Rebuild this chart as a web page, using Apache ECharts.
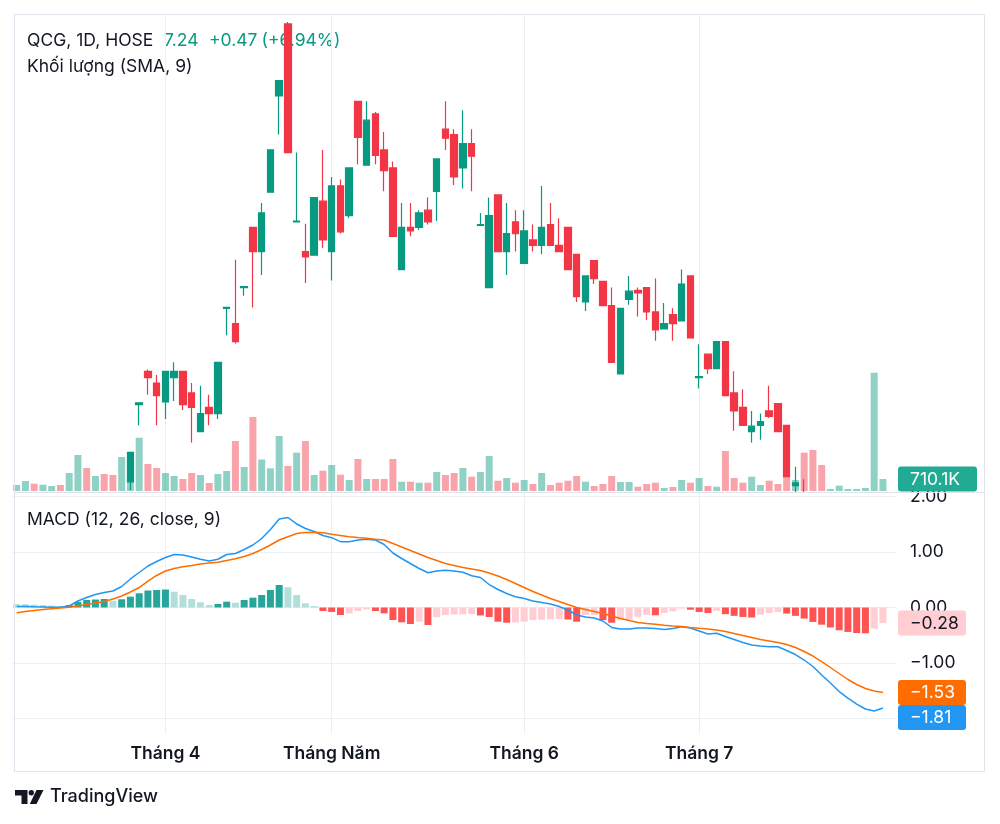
<!DOCTYPE html>
<html>
<head>
<meta charset="utf-8">
<script src="https://cdn.jsdelivr.net/npm/echarts@6/dist/echarts.min.js"></script>
<style>html,body{margin:0;padding:0;background:#fff}#c{width:1000px;height:824px}</style>
</head>
<body>
<div id="c"></div>
<script>
// ---------- DATA ----------
const dates = [
 '2024-03-07','2024-03-08','2024-03-11','2024-03-12','2024-03-13','2024-03-14','2024-03-15','2024-03-18','2024-03-19','2024-03-20',
 '2024-03-21','2024-03-22','2024-03-25','2024-03-26','2024-03-27','2024-03-28','2024-03-29',
 '2024-04-01','2024-04-02','2024-04-03','2024-04-04','2024-04-05','2024-04-08','2024-04-09','2024-04-10','2024-04-11','2024-04-12',
 '2024-04-15','2024-04-16','2024-04-17','2024-04-19','2024-04-22','2024-04-23','2024-04-24','2024-04-25','2024-04-26',
 '2024-05-02','2024-05-03','2024-05-06','2024-05-07','2024-05-08','2024-05-09','2024-05-10','2024-05-13','2024-05-14','2024-05-15',
 '2024-05-16','2024-05-17','2024-05-20','2024-05-21','2024-05-22','2024-05-23','2024-05-24','2024-05-27','2024-05-28','2024-05-29',
 '2024-05-30','2024-05-31',
 '2024-06-03','2024-06-04','2024-06-05','2024-06-06','2024-06-07','2024-06-10','2024-06-11','2024-06-12','2024-06-13','2024-06-14',
 '2024-06-17','2024-06-18','2024-06-19','2024-06-20','2024-06-21','2024-06-24','2024-06-25','2024-06-26','2024-06-27','2024-06-28',
 '2024-07-01','2024-07-02','2024-07-03','2024-07-04','2024-07-05','2024-07-08','2024-07-09','2024-07-10','2024-07-11','2024-07-12',
 '2024-07-15','2024-07-16','2024-07-17','2024-07-18','2024-07-19','2024-07-22','2024-07-23','2024-07-24','2024-07-25','2024-07-26',
 '2024-07-29','2024-07-30'
];
const monthStartDates = ['2024-04-01','2024-05-02','2024-06-03','2024-07-01'];
const monthTickLabels = ['Tháng 4','Tháng Năm','Tháng 6','Tháng 7'];

const opens = [10.30,10.35,10.45,10.40,10.45,10.50,10.45,10.65,10.95,10.80,10.90,10.85,10.80,11.37,12.23,12.60,12.47,12.26,12.53,12.60,
 12.36,11.93,12.20,12.13,13.30,13.13,13.53,14.20,13.93,14.59,15.66,16.46,14.26,13.93,13.89,14.49,13.93,14.66,14.33,15.60,
 14.89,15.46,15.06,14.86,13.73,14.20,14.20,14.39,14.60,15.29,15.23,14.86,15.13,14.22,13.53,14.56,13.93,14.26,13.80,14.06,
 14.00,14.23,14.00,14.20,13.90,13.37,13.83,13.60,13.33,12.57,13.40,13.50,13.53,13.26,13.07,13.23,13.16,13.66,12.53,12.79,
 12.63,12.93,12.36,12.20,11.93,12.00,12.16,12.24,12.00,11.33,11.20,10.30,9.60,8.50,7.91,7.36,6.85,6.37,5.93,6.85];
const highs = [10.40,10.50,10.50,10.50,10.55,10.55,10.70,11.00,11.05,10.95,11.00,10.95,11.15,11.71,12.25,12.62,12.56,12.60,12.70,12.60,
 12.47,12.44,12.34,12.70,13.31,13.84,13.54,14.20,14.47,15.06,15.83,16.48,15.03,14.24,14.53,15.06,14.76,14.73,14.86,15.60,
 15.60,15.48,15.26,14.93,14.47,14.47,14.39,14.53,14.96,15.60,15.29,15.50,15.29,14.36,14.53,14.56,14.47,14.39,14.39,14.23,
 14.66,14.47,14.30,14.20,13.90,13.66,13.83,13.60,13.53,13.30,13.66,13.53,13.53,13.63,13.36,13.30,13.73,13.66,12.90,12.79,
 12.93,12.93,12.60,12.40,12.16,12.13,12.44,12.24,12.00,11.54,11.40,10.45,9.75,8.50,8.00,7.36,6.85,6.37,6.80,7.24];
const lows = [10.25,10.30,10.35,10.35,10.40,10.40,10.40,10.60,10.75,10.75,10.80,10.75,10.75,11.28,12.00,12.34,12.00,12.07,12.27,12.17,
 11.81,11.93,12.00,12.07,13.00,12.91,13.44,13.31,13.67,14.59,15.23,15.03,14.26,13.58,13.89,13.97,13.61,14.13,14.30,14.90,
 14.89,14.90,14.60,14.10,13.73,14.10,14.17,14.23,14.27,15.06,14.67,14.63,14.60,14.22,13.53,13.93,13.67,13.93,13.80,13.93,
 13.90,14.00,13.93,13.73,13.37,13.27,13.57,13.33,12.70,12.57,13.34,13.21,13.17,12.94,13.07,12.94,13.16,12.97,12.41,12.57,
 12.63,12.33,11.94,12.00,11.81,11.84,12.08,11.93,11.43,11.20,10.57,9.83,9.14,8.50,7.91,7.36,6.85,6.37,5.93,6.80];
const closes = [10.35,10.45,10.40,10.45,10.50,10.45,10.65,10.95,10.80,10.90,10.85,10.80,11.10,11.70,12.25,12.53,12.33,12.60,12.60,12.23,
 12.20,12.13,12.13,12.70,13.31,12.93,13.54,13.93,14.36,15.06,15.83,15.03,14.27,13.87,14.53,14.06,14.66,14.15,14.86,15.20,
 15.39,15.00,14.83,14.10,14.20,14.16,14.36,14.26,14.96,15.19,14.76,15.13,14.99,14.23,14.33,13.93,14.13,14.13,14.16,14.00,
 14.20,14.00,13.93,13.73,13.43,13.66,13.63,13.33,12.70,13.30,13.49,13.47,13.26,13.06,13.13,13.13,13.57,12.97,12.54,12.63,
 12.93,12.33,12.16,12.00,11.99,12.04,12.10,11.93,11.43,11.36,10.57,9.83,9.14,8.50,7.91,7.36,6.85,6.37,6.77,7.24];
// volume in thousands of shares
const volumesK = [355,592,432,373,296,355,1066,2131,1362,888,1006,947,2013,1954,3155,1598,1362,1066,888,710,
 1066,947,474,1006,1184,2960,1421,4381,1865,1344,3256,1480,2267,2960,947,1202,1539,965,651,1894,
 710,710,710,1894,551,551,491,491,1125,947,1066,1362,847,1125,2072,610,770,491,651,414,
 1066,355,491,610,888,551,296,414,888,533,533,255,414,491,178,237,651,491,770,296,
 255,2368,770,491,847,355,610,414,847,651,2267,2427,1539,118,314,118,118,178,7003,710.1];
const macdLine = [0.018,0.018,0.013,0.009,0.005,0.005,0.027,0.117,0.180,0.234,0.270,0.297,0.378,0.514,0.631,0.748,0.829,0.901,0.955,0.946,
 0.910,0.868,0.838,0.870,0.955,0.973,1.045,1.126,1.243,1.405,1.595,1.622,1.505,1.423,1.369,1.297,1.258,1.186,1.186,1.216,
 1.231,1.216,1.135,0.982,0.883,0.793,0.703,0.627,0.658,0.672,0.658,0.634,0.573,0.541,0.414,0.324,0.252,0.195,0.162,0.117,
 0.090,0.063,0.018,-0.045,-0.135,-0.171,-0.189,-0.243,-0.360,-0.387,-0.387,-0.369,-0.369,-0.378,-0.396,-0.378,-0.346,-0.369,-0.423,-0.477,
 -0.465,-0.523,-0.577,-0.631,-0.676,-0.694,-0.706,-0.706,-0.775,-0.847,-0.946,-1.063,-1.216,-1.360,-1.514,-1.631,-1.739,-1.829,-1.865,-1.81];
const signalLine = [-0.094,-0.072,-0.054,-0.036,-0.022,-0.009,0.004,0.027,0.054,0.081,0.108,0.153,0.207,0.279,0.360,0.477,0.577,0.658,0.703,0.735,
 0.757,0.784,0.802,0.814,0.847,0.877,0.919,0.973,1.045,1.126,1.216,1.276,1.333,1.351,1.355,1.348,1.321,1.297,1.276,1.261,
 1.247,1.229,1.216,1.153,1.090,1.027,0.964,0.901,0.847,0.793,0.757,0.721,0.694,0.667,0.622,0.568,0.505,0.432,0.360,0.288,
 0.225,0.162,0.108,0.054,0.000,-0.036,-0.072,-0.108,-0.153,-0.198,-0.234,-0.270,-0.288,-0.303,-0.321,-0.333,-0.342,-0.360,-0.375,-0.387,
 -0.405,-0.432,-0.468,-0.505,-0.541,-0.577,-0.604,-0.631,-0.667,-0.721,-0.793,-0.874,-0.973,-1.081,-1.189,-1.297,-1.387,-1.459,-1.505,-1.53];
const histogram = [0.06,0.06,0.05,0.045,0.035,0.027,0.045,0.10,0.135,0.144,0.153,0.122,0.148,0.195,0.256,0.306,0.315,0.324,0.285,0.225,
 0.153,0.094,0.045,0.063,0.105,0.086,0.135,0.177,0.225,0.315,0.405,0.364,0.225,0.076,0.027,-0.063,-0.08,-0.135,-0.105,-0.063,
 -0.032,-0.063,-0.105,-0.225,-0.267,-0.297,-0.256,-0.315,-0.177,-0.135,-0.126,-0.123,-0.117,-0.144,-0.171,-0.256,-0.274,-0.27,-0.256,-0.225,
 -0.22,-0.213,-0.207,-0.216,-0.256,-0.135,-0.134,-0.225,-0.274,-0.225,-0.213,-0.166,-0.135,-0.14,-0.10,-0.07,-0.02,-0.04,-0.08,-0.10,
 -0.06,-0.12,-0.15,-0.17,-0.18,-0.13,-0.10,-0.08,-0.11,-0.15,-0.20,-0.26,-0.31,-0.36,-0.41,-0.44,-0.46,-0.465,-0.38,-0.28];

// ---------- STYLE ----------
const FONT = 'Inter, "Noto Sans", sans-serif';
const TXT = '#131722';
const UP = '#089981', DOWN = '#F23645';
const UP_VOL = 'rgba(8,153,129,0.45)', DOWN_VOL = 'rgba(242,54,69,0.45)';
const GRID = '#eceff4';
const cats = dates.concat(['']);
const fmtSigned = v => (v < 0 ? '\u2212' : '') + Math.abs(v).toFixed(2);

const ohlc = dates.map((d, i) => [opens[i], closes[i], lows[i], highs[i]]);
function gridLines(z) {
  return {
    silent: true, symbol: ['none', 'none'], z: z, animation: false,
    label: { show: false },
    lineStyle: { color: GRID, width: 1, type: 'solid' },
    emphasis: { disabled: true },
    data: monthStartDates.map(d => ({ xAxis: d }))
  };
}

const gL = 12.3, gW = 883.75;
const chart = echarts.init(document.getElementById('c'));
const option = {
  animation: false,
  backgroundColor: '#ffffff',
  grid: [
    { left: gL, top: 14, width: gW, height: 478 },
    { left: gL, top: 14, width: gW, height: 477 },
    { left: gL, top: 493, width: gW, height: 241 }
  ],
  xAxis: [0, 1, 2].map(g => ({
    type: 'category', gridIndex: g, data: cats, boundaryGap: true, z: 4,
    axisLine: { show: false }, axisTick: { show: false }, splitLine: { show: false },
    axisLabel: g === 2 ? {
      show: true,
      interval: (idx, val) => monthStartDates.indexOf(val) >= 0,
      formatter: val => monthTickLabels[monthStartDates.indexOf(val)] || '',
      color: TXT, fontSize: 17.5, fontWeight: 600, fontFamily: FONT, margin: 11
    } : { show: false }
  })),
  yAxis: [
    { gridIndex: 0, min: 11.259, max: 16.57, show: false },
    { gridIndex: 1, min: 0, max: 28238, show: false },
    { gridIndex: 2, min: -2.279, max: 2.063, position: 'right', z: 4,
      axisLine: { show: false }, axisTick: { show: false },
      axisLabel: { color: TXT, fontSize: 17.5, fontFamily: FONT, margin: 14, showMinLabel: false, showMaxLabel: false,
        formatter: v => fmtSigned(v) },
      splitLine: { show: true, showMinLine: false, showMaxLine: false, lineStyle: { color: GRID, width: 1 } } }
  ],
  series: [
    { name: 'Khối lượng', type: 'bar', xAxisIndex: 1, yAxisIndex: 1, data: volumesK, barWidth: 7, z: 1,
      itemStyle: { color: p => closes[p.dataIndex] >= opens[p.dataIndex] ? UP_VOL : DOWN_VOL },
      markLine: gridLines(0) },
    { name: 'QCG', type: 'candlestick', xAxisIndex: 0, yAxisIndex: 0, data: ohlc, barWidth: 7, z: 2, clip: true,
      itemStyle: { color: UP, color0: DOWN, borderColor: UP, borderColor0: DOWN, borderWidth: 1.2 } },
    { name: 'Histogram', type: 'bar', xAxisIndex: 2, yAxisIndex: 2, data: histogram, barWidth: 7, z: 5,
      itemStyle: { color: p => {
        const i = p.dataIndex, v = histogram[i], pv = i > 0 ? histogram[i - 1] : v;
        if (v >= 0) return v > pv ? '#26A69A' : '#B2DFDB';
        return v < pv ? '#FF5252' : '#FFCDD2';
      } },
      markLine: gridLines(4) },
    { name: 'MACD', type: 'line', xAxisIndex: 2, yAxisIndex: 2, data: macdLine, showSymbol: false, z: 6,
      lineStyle: { color: '#2196F3', width: 1.5 }, itemStyle: { color: '#2196F3' } },
    { name: 'Signal', type: 'line', xAxisIndex: 2, yAxisIndex: 2, data: signalLine, showSymbol: false, z: 7,
      lineStyle: { color: '#FF6D00', width: 1.5 }, itemStyle: { color: '#FF6D00' } }
  ],
  graphic: []
};

function txt(x, y, text, fill, size, weight, z) {
  return { type: 'text', z: z || 0, silent: true,
    style: { x: x, y: y, text: text, fill: fill, font: (weight || 400) + ' ' + size + 'px ' + FONT,
      textAlign: 'left', textVerticalAlign: 'middle' } };
}
const G = option.graphic;
// white mask keeping price candles inside their own pane
G.push({ type: 'rect', z: 3, silent: true, shape: { x: 14, y: 493, width: 971, height: 278 }, style: { fill: '#ffffff' } });
// frame & pane separator
G.push({ type: 'rect', z: 20, silent: true, shape: { x: 14.5, y: 14.5, width: 970, height: 757 },
  style: { fill: 'none', stroke: '#e0e3eb', lineWidth: 1 } });
G.push({ type: 'line', z: 20, silent: true, shape: { x1: 14, y1: 492.5, x2: 985, y2: 492.5 },
  style: { stroke: '#e0e3eb', lineWidth: 1 } });
// legends
const last = closes.length - 1;
const chg = closes[last] - closes[last - 1];
G.push(txt(27, 41, 'QCG, 1D, HOSE', TXT, 17.5));
G.push(txt(164, 41, closes[last].toFixed(2), UP, 17.5));
G.push(txt(209, 41, '+' + chg.toFixed(2), UP, 17.5));
G.push(txt(261.5, 41, '(+' + (chg / closes[last - 1] * 100).toFixed(2) + '%)', UP, 17.5));
G.push(txt(27, 66.5, 'Khối lượng (SMA, 9)', TXT, 17.5));
G.push(txt(27, 520, 'MACD (12, 26, close, 9)', TXT, 17.5, 400, 10));
// TradingView watermark
G.push({ type: 'polygon', z: 0, silent: true, shape: { points: [[15,790],[27.5,790],[27.5,804],[21.5,804],[21.5,795.5],[15,795.5]] }, style: { fill: TXT } });
G.push({ type: 'circle', z: 0, silent: true, shape: { cx: 31.3, cy: 792.8, r: 2.7 }, style: { fill: TXT } });
G.push({ type: 'polygon', z: 0, silent: true, shape: { points: [[36.5,790],[43.5,790],[36.5,804],[29.8,804]] }, style: { fill: TXT } });
G.push(txt(50, 797, 'TradingView', TXT, 18, 500));

chart.setOption(option);

// value tags on the right scale
function tag(yc, w, text, bg, fg) {
  return [
    { type: 'rect', z: 50, silent: true, shape: { x: 898, y: yc - 12.5, width: w, height: 25, r: 3 }, style: { fill: bg } },
    { type: 'text', z: 51, silent: true, style: { x: 910, y: yc + 0.5, text: text, fill: fg, font: '400 17.5px ' + FONT, textAlign: 'left', textVerticalAlign: 'middle' } }
  ];
}
const yVol = chart.convertToPixel({ yAxisIndex: 1 }, volumesK[last]);
const yHist = chart.convertToPixel({ yAxisIndex: 2 }, histogram[last]);
const ySig = chart.convertToPixel({ yAxisIndex: 2 }, signalLine[last]);
let yMacd = chart.convertToPixel({ yAxisIndex: 2 }, macdLine[last]);
if (yMacd < ySig + 25) yMacd = ySig + 25;
const volLabel = (volumesK[last] >= 1000 ? (volumesK[last] / 1000).toFixed(2) + 'M' : volumesK[last].toFixed(1) + 'K');
[].concat(
  tag(yVol, 79, volLabel, '#22AB94', '#ffffff'),
  tag(yHist, 68, fmtSigned(histogram[last]), '#FFCDD2', TXT),
  tag(ySig, 68, fmtSigned(signalLine[last]), '#FF6D00', '#ffffff'),
  tag(yMacd, 68, fmtSigned(macdLine[last]), '#2196F3', '#ffffff')
).forEach(e => G.push(e));
chart.setOption({ graphic: G });
</script>
</body>
</html>
